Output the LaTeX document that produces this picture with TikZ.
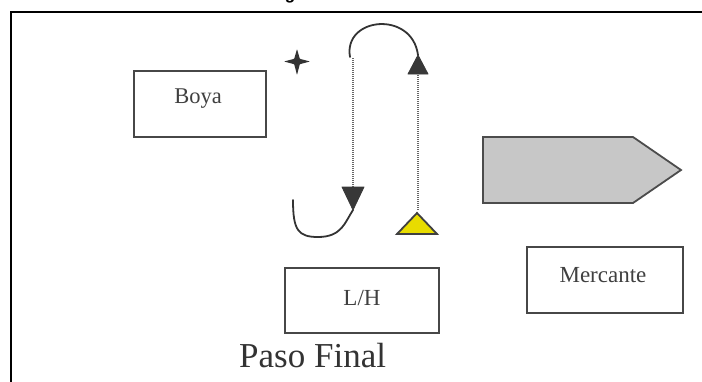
\documentclass[tikz,border=0pt]{standalone}
\usepackage{fontspec}
\setmainfont{Liberation Serif}
\newfontfamily\titlefont{Liberation Sans}
\begin{document}
\begin{tikzpicture}[x=1pt,y=-1pt,
  boxst/.style={draw=black!72,line width=1.8pt,fill=white,inner sep=0pt},
  lblst/.style={inner sep=0pt,text=black!75},
  dotline/.style={draw=black!60,line width=1.6pt,dash pattern=on 1pt off 1pt},
  curvest/.style={draw=black!80,line width=1.8pt,line cap=round,line join=round},
  headst/.style={fill=black!78,draw=black!78,line width=0.8pt,line join=round}]
\useasboundingbox (0,0) rectangle (702,381);
\begin{scope}
\clip (0,0) rectangle (702,381);
% title fragment
\node[anchor=base,inner sep=0pt,font=\titlefont\bfseries\fontsize{17}{20}\selectfont] (ttl) at (290,-1) {g};
% frame
\draw[line width=2.4pt,line cap=rect] (702,12) -- (11,12) -- (11,385);
\end{scope}
% boxes
\node[boxst,minimum width=132pt,minimum height=66pt] (boya) at (200,104) {};
\node[lblst,font=\fontsize{22.5}{24}\selectfont] (boyat) at (198,99) {Boya};
\node[boxst,minimum width=154pt,minimum height=65pt] (lh) at (362,300.5) {};
\node[lblst,font=\fontsize{23}{24}\selectfont] (lht) at (362,298) {L/H};
\node[boxst,minimum width=156pt,minimum height=66pt] (merc) at (605,280) {};
\node[lblst,font=\fontsize{23}{24}\selectfont] (merct) at (603,275) {Mercante};
% Paso Final
\node[anchor=base west,inner sep=0pt,font=\fontsize{35}{40}\selectfont,text=black!80] (paso) at (239,367) {Paso Final};
% grey ship arrow
\draw[fill=black!22,draw=black!70,line width=1.8pt,line join=miter] (483,137) -- (633,137) -- (681,170) -- (633,203) -- (483,203) -- cycle;
\coordinate (ship) at (580,170);
% star
\fill[black!80,rounded corners=0.6pt] (297,49) -- (299.8,58.8) -- (310,61.5) -- (299.8,64.2) -- (297,75) -- (294.2,64.2) -- (284,61.5) -- (294.2,58.8) -- cycle;
\coordinate (star) at (297,62);
% coordinates
\coordinate (l1) at (353,58);
\coordinate (l2) at (353,188);
\coordinate (ltip) at (353,210);
\coordinate (r1) at (418,73);
\coordinate (r2) at (418,210);
\coordinate (rtip) at (418,55);
% dotted lines
\draw[dotline] (l1) -- (l2);
\draw[dotline] (r1) -- (r2);
% big arc
\draw[curvest] (350,57) .. controls (343,17) and (412,10) .. (rtip);
% up arrowhead
\draw[headst] (rtip) -- (428,74) -- (408,74) -- cycle;
% down arrowhead
\draw[headst] (ltip) -- (342,187) -- (364,187) -- cycle;
% hook
\draw[curvest] (ltip) .. controls (345,222) and (342,237) .. (318,237) .. controls (298,237) and (293,230) .. (293,200);
% yellow triangle
\node[inner sep=0pt] (yel) at (417,226) {};
\draw[fill=yellow!80!olive,draw=black!75,line width=1.8pt,line join=miter] (417,213) -- (437,234) -- (397,234) -- cycle;
\end{tikzpicture}
\end{document}
